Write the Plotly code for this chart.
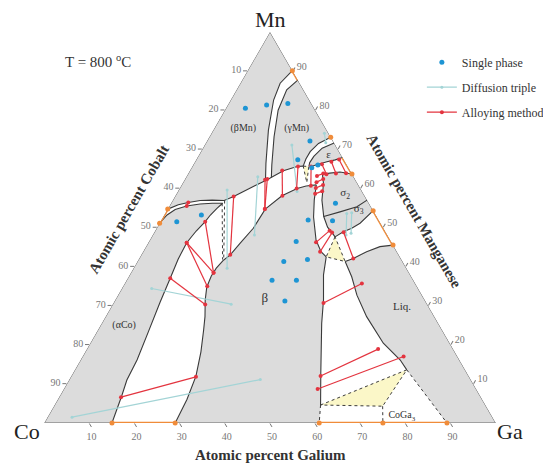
import plotly.graph_objects as go

# ---------------- data: compositions as (Mn at.%, Ga at.%); Co = 100 - Mn - Ga ----------------
TICKS = [10, 20, 30, 40, 50, 60, 70, 80, 90]

BMN_LOWER = [(54.7, 0.0), (55.8, 1.8), (56.4, 3.7), (56.9, 6.1), (57.0, 8.7), (56.9, 11.4), (57.9, 13.0),
             (60.1, 15.6), (62.1, 18.1), (64.5, 20.7), (65.6, 23.2), (65.7, 24.5)]
ACO_TOP = [(51.1, 0.0), (53.2, 0.6), (54.6, 1.7), (55.5, 3.8), (56.0, 6.5), (56.2, 9.1), (56.2, 11.4)]
ACO_RIGHT = [(56.2, 11.4), (54.9, 10.8), (53.2, 10.2), (51.5, 9.9), (49.1, 9.1), (46.1, 8.5), (41.9, 8.7),
             (37.0, 9.4), (30.9, 10.2), (23.3, 11.4), (16.1, 12.5), (11.0, 12.8), (6.9, 13.7), (0.0, 15.0)]
B_LEFT = [(41.7, 18.9), (39.6, 18.3), (37.6, 18.2), (34.8, 18.6), (31.5, 19.9), (27.2, 22.0), (23.8, 23.4),
          (18.2, 25.6), (12.0, 27.6), (6.0, 28.6), (0.0, 29.0)]
B_UPPER = [(41.7, 18.9), (43.0, 19.7), (46.0, 20.4), (49.8, 21.4), (54.7, 21.6), (58.1, 23.6), (60.0, 26.0),
           (60.6, 27.7), (60.9, 29.8)]
MN_BAND_L = [(90.1, 9.9), (86.9, 8.8), (82.6, 9.5), (74.9, 12.2), (66.4, 15.9), (62.0, 18.0)]
MN_BAND_R = [(87.7, 12.3), (85.2, 11.1), (80.0, 11.8), (73.2, 14.3), (66.0, 17.4), (62.8, 18.9)]
EPS_OUTER = [(73.1, 26.9), (71.5, 25.0), (69.4, 24.2), (67.5, 24.2), (65.7, 24.5)]
EPS_INNER = [(71.6, 28.4), (70.3, 26.4), (68.2, 25.6), (66.6, 25.5), (65.6, 25.8)]
EPS_LOWER = [(67.9, 32.1), (67.3, 30.8), (66.8, 29.2), (66.2, 27.6), (65.6, 26.3)]
SIG_TOP = [(63.7, 36.3), (64.2, 33.4), (63.9, 31.3), (63.6, 29.8)]
B_RIGHT_UP = [(60.9, 29.8), (57.0, 31.3), (52.7, 33.3), (46.8, 36.8), (43.8, 39.4), (42.5, 41.2)]
SIG_LEFT = [(63.6, 29.8), (61.3, 31.2), (57.0, 33.0), (52.8, 35.5), (50.1, 37.7), (48.7, 39.4), (47.6, 40.6)]
SIG_DIV = [(52.8, 35.5), (54.0, 38.5), (55.3, 41.6), (57.0, 43.0)]
SIG_BOTTOM = [(54.3, 45.7), (51.1, 44.4), (49.8, 43.2), (48.9, 41.8), (47.6, 40.6)]
LIQ_TOP = [(45.5, 54.5), (45.1, 51.8), (43.8, 49.5), (42.1, 47.4), (41.3, 46.0)]
LIQ_LEFT = [(41.3, 46.0), (37.4, 49.4), (32.7, 52.9), (27.2, 57.8), (20.4, 64.9), (16.1, 70.8), (13.6, 73.5)]
B_RIGHT = [(42.5, 41.2), (37.9, 42.9), (31.5, 46.1), (25.5, 48.7), (12.7, 54.9), (4.6, 58.9)]

TRI_SMALL = [(65.7, 24.5), (65.6, 25.8), (61.5, 27.4)]
TRI_MID = [(47.6, 40.6), (42.5, 41.2), (41.3, 46.0)]
TRI_BOT = [(4.6, 58.9), (13.6, 73.5), (4.3, 72.8)]
DOTTED = [[(56.2, 11.3), (41.8, 18.6)], [(56.9, 11.5), (41.7, 18.9)],
          [(4.6, 58.9), (0.0, 60.9)], [(13.6, 73.5), (0.0, 89.2)], [(4.3, 72.8), (0.0, 75.0)]]

EDGE_ORANGE = [[(90.1, 9.9), (87.7, 12.3)], [(67.9, 32.1), (63.7, 36.3)], [(54.3, 45.7), (45.5, 54.5)],
               [(54.7, 0.0), (51.1, 0.0)], [(0.0, 15.0), (0.0, 29.0)], [(0.0, 60.9), (0.0, 89.2)]]
ORANGE_PTS = [(90.1, 9.9), (87.7, 12.3), (73.1, 26.9), (67.9, 32.1), (63.7, 36.3), (54.3, 45.7), (45.5, 54.5),
              (54.7, 0.0), (51.1, 0.0), (0.0, 15.0), (0.0, 29.0), (0.0, 60.9), (0.0, 75.0), (0.0, 89.2)]
OUTLINE = [(100.0, 0.0), (0.0, 0.0), (0.0, 100.0), (100.0, 0.0)]

SINGLE_PHASE = [(80.5, 4.3), (81.3, 8.6), (81.7, 13.1), (72.1, 22.8), (67.3, 22.5), (65.3, 26.6), (66.0, 27.6),
                (53.2, 8.2), (51.5, 3.6), (56.2, 36.4), (51.9, 32.5), (51.7, 38.0), (46.4, 32.6), (41.3, 32.4),
                (41.8, 37.4), (36.5, 32.2), (36.5, 37.6), (31.2, 37.7)]

DIFFUSION = [[(1.5, 5.4), (11.1, 42.3)], [(34.4, 6.6), (30.4, 26.2)], [(59.6, 10.7), (39.6, 20.7)],
             [(63.0, 15.8), (48.1, 22.5)], [(71.1, 19.3), (59.2, 26.4)], [(53.6, 40.2), (48.1, 42.8)],
             [(53.8, 41.2), (48.5, 43.7)], [(74.1, 25.0), (71.7, 26.5)]]

ALLOYING = [[(56.4, 3.7), (55.5, 3.8)], [(51.5, 9.9), (38.4, 18.3)], [(46.1, 8.5), (38.4, 18.3)],
            [(46.1, 8.5), (35.0, 18.6)], [(37.0, 9.4), (30.3, 20.5)], [(6.6, 13.7), (11.8, 27.7)],
            [(57.9, 13.0), (43.0, 19.7)], [(62.2, 17.8), (54.7, 21.5)], [(62.4, 18.2), (54.7, 21.5)],
            [(64.6, 20.4), (58.1, 23.7)], [(65.6, 23.4), (60.0, 25.9)], [(65.6, 26.3), (60.7, 28.7)],
            [(63.2, 28.8), (63.8, 29.9)], [(61.6, 29.5), (62.4, 30.6)], [(60.1, 30.1), (60.9, 31.3)],
            [(58.6, 30.7), (59.3, 31.9)], [(66.2, 28.4), (63.6, 30.7)], [(66.8, 30.2), (63.8, 32.7)],
            [(67.4, 31.6), (63.9, 34.9)], [(46.2, 37.1), (49.2, 38.6)], [(43.8, 39.2), (48.7, 39.4)],
            [(48.8, 41.9), (42.1, 47.4)], [(30.7, 46.5), (35.7, 52.5)], [(12.0, 55.2), (18.9, 64.5)],
            [(8.7, 56.2), (17.0, 71.1)]]

REGION_LABELS = ["(βMn)", "(γMn)", "ε", "σ<sub>2</sub>", "σ<sub>3</sub>", "β", "Liq.", "(αCo)", "CoGa<sub>3</sub>"]
REGION_POS = [(75.4, 6.4), (75.4, 18.2), (68.5, 28.7), (58.7, 37.3), (54.7, 42.3), (31.7, 33.0), (29.7, 64.4),
              (25.0, 5.2), (1.8, 78.3)]
REGION_SIZE = [10, 10, 11, 11, 11, 13, 11, 10, 10]

# ---------------- styling ----------------
GRAY = "#dcdcdc"
LINE = "#3a3a3a"
RED = "#e3343f"
ORANGE = "#f08c3a"
BLUE = "#1e95d4"
CYAN = "#a3d4d6"
YELLOW = "#fbf7c8"
SERIF = "Liberation Serif"


def tern(pts):
    return dict(a=[p[0] for p in pts], c=[p[1] for p in pts], b=[100 - p[0] - p[1] for p in pts])


def segs(list_of_segs):
    a, b, c = [], [], []
    for s in list_of_segs:
        t = tern(s)
        a += t["a"] + [None]
        b += t["b"] + [None]
        c += t["c"] + [None]
    return dict(a=a, b=b, c=c)


fig = go.Figure()

# single-phase gray regions
regions = [
    [(0.0, 0.0)] + ACO_TOP + ACO_RIGHT[1:],
    [(100.0, 0.0)] + MN_BAND_L + BMN_LOWER[:8][::-1],
    MN_BAND_R[::-1] + EPS_OUTER + [BMN_LOWER[10], BMN_LOWER[9]],
    EPS_INNER + EPS_LOWER[::-1],
    SIG_TOP + SIG_LEFT[1:] + SIG_BOTTOM[::-1][1:],
    B_UPPER + B_RIGHT_UP[1:] + B_RIGHT[1:] + [(0.0, 60.9)] + B_LEFT[::-1],
    LIQ_TOP + LIQ_LEFT[1:] + [(0.0, 89.2), (0.0, 100.0)],
]
for r in regions:
    fig.add_trace(go.Scatterternary(**tern(r + [r[0]]), mode="lines", fill="toself", fillcolor=GRAY,
                                    line=dict(width=0, color=GRAY), hoverinfo="skip", showlegend=False))

# three-phase yellow triangles
for t in [TRI_SMALL, TRI_MID, TRI_BOT]:
    fig.add_trace(go.Scatterternary(**tern(t + [t[0]]), mode="lines", fill="toself", fillcolor=YELLOW,
                                    line=dict(width=1, color=LINE, dash="dot"), hoverinfo="skip",
                                    showlegend=False))

# triangle outline
fig.add_trace(go.Scatterternary(**tern(OUTLINE), mode="lines", line=dict(width=1, color="#666"),
                                hoverinfo="skip", showlegend=False, cliponaxis=False))

# solid phase boundaries
bounds = [BMN_LOWER, ACO_TOP, ACO_RIGHT, B_LEFT, B_UPPER, MN_BAND_L, MN_BAND_R, EPS_OUTER, EPS_INNER,
          EPS_LOWER, SIG_TOP, B_RIGHT_UP, SIG_LEFT, SIG_DIV, SIG_BOTTOM, LIQ_TOP, LIQ_LEFT, B_RIGHT]
fig.add_trace(go.Scatterternary(**segs(bounds), mode="lines", line=dict(width=1.1, color=LINE),
                                hoverinfo="skip", showlegend=False))
fig.add_trace(go.Scatterternary(**segs(DOTTED), mode="lines", line=dict(width=1, color=LINE, dash="dot"),
                                hoverinfo="skip", showlegend=False))

# orange edge segments
fig.add_trace(go.Scatterternary(**segs(EDGE_ORANGE), mode="lines", line=dict(width=2.5, color=ORANGE),
                                hoverinfo="skip", showlegend=False, cliponaxis=False))
fig.add_trace(go.Scatterternary(**tern(ORANGE_PTS), mode="markers", marker=dict(size=5, color=ORANGE),
                                hoverinfo="skip", showlegend=False, cliponaxis=False))

# diffusion triple
fig.add_trace(go.Scatterternary(**segs(DIFFUSION), mode="lines+markers", name="Diffusion triple",
                                line=dict(width=1.2, color=CYAN), marker=dict(size=3, color=CYAN),
                                hoverinfo="skip", legendrank=2, legendgroup="g2"))
# alloying method
fig.add_trace(go.Scatterternary(**segs(ALLOYING), mode="lines+markers", name="Alloying method",
                                line=dict(width=1.2, color=RED), marker=dict(size=4, color=RED),
                                hoverinfo="skip", legendrank=3, legendgroup="g3"))
# single phase
fig.add_trace(go.Scatterternary(**tern(SINGLE_PHASE), mode="markers", name="Single phase",
                                marker=dict(size=5, color=BLUE), hoverinfo="skip", legendrank=1,
                                legendgroup="g1"))

# region labels
for lab, pos, sz in zip(REGION_LABELS, REGION_POS, REGION_SIZE):
    fig.add_trace(go.Scatterternary(**tern([pos]), mode="text", text=[lab],
                                    textfont=dict(family=SERIF, size=sz, color="#333"),
                                    hoverinfo="skip", showlegend=False))


def axis(vals_text):
    return dict(title=dict(text=""), tickmode="array", tickvals=TICKS, ticktext=vals_text, showgrid=False,
                showline=False, ticks="outside", ticklen=4, tickcolor="#777", layer="below traces",
                tickfont=dict(family=SERIF, size=10, color="#777"), min=0)


def note(text, x, y, size, angle=0, color="#222"):
    return dict(text=text, x=x, y=y, xref="paper", yref="paper", showarrow=False, xanchor="center",
                yanchor="middle", textangle=angle, font=dict(family=SERIF, size=size, color=color))


rev = [str(100 - v) for v in TICKS]
fig.update_layout(
    width=543, height=464,
    margin=dict(l=44, r=47, t=32, b=41, autoexpand=False),
    paper_bgcolor="white",
    font=dict(family=SERIF),
    hovermode=False,
    ternary=dict(sum=100, bgcolor="white", domain=dict(x=[0, 1], y=[0, 1]),
                 aaxis=axis(rev), baxis=axis(rev), caxis=axis(rev)),
    legend=dict(x=0.836, y=0.96, xanchor="left", yanchor="top", bgcolor="rgba(0,0,0,0)",
                font=dict(family=SERIF, size=12, color="#333"), tracegroupgap=6, itemwidth=30),
    annotations=[
        note("Mn", 0.5, 1.031, 22),
        note("Co", -0.0385, -0.0205, 22),
        note("Ga", 1.030, -0.0205, 22),
        note("T = 800 <sup>o</sup>C", 0.119, 0.926, 15, color="#333"),
        note("<b>Atomic percent Galium</b>", 0.5, -0.083, 15, color="#333"),
        note("<b>Atomic percent Cobalt</b>", 0.188, 0.547, 15, angle=-60, color="#333"),
        note("<b>Atomic percent Manganese</b>", 0.818, 0.541, 15, angle=60, color="#333"),
    ],
)

fig.write_html("out.html", config={"displayModeBar": False},
               post_script="document.body.style.margin='0';document.body.style.overflow='hidden';")
